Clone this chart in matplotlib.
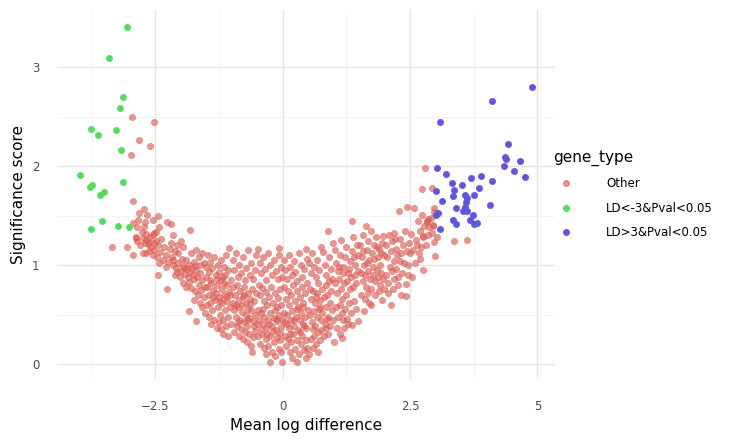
import numpy as np
import matplotlib
matplotlib.use("Agg")
import matplotlib.pyplot as plt
from matplotlib.lines import Line2D

# gene_type groups, colours from the plotnine hue palette
types = ["Other", "LD<-3&Pval<0.05", "LD>3&Pval<0.05"]
colors = ["#db5f57", "#57db5f", "#5f57db"]

# (mean log difference, significance score)
green_pts = [(-3.06, 3.41), (-3.41, 3.10), (-3.14, 2.70), (-3.20, 2.59), (-3.77, 2.38),
             (-3.63, 2.32), (-3.27, 2.37), (-3.18, 2.17), (-3.98, 1.91), (-3.75, 1.81),
             (-3.78, 1.79), (-3.14, 1.84), (-3.58, 1.71), (-3.51, 1.74), (-3.55, 1.45),
             (-3.77, 1.37), (-3.23, 1.40), (-3.02, 1.39)]

blue_pts = [(4.90, 2.80), (4.11, 2.66), (3.09, 2.45), (4.42, 2.23), (4.37, 2.09), (4.38, 2.07),
            (4.65, 2.05), (4.34, 2.00), (4.53, 1.95), (4.76, 1.89), (3.03, 1.98), (3.20, 1.92),
            (3.90, 1.90), (3.70, 1.88), (4.11, 1.85), (3.33, 1.83), (3.51, 1.81), (3.86, 1.78),
            (3.37, 1.76), (3.00, 1.75), (3.57, 1.71), (3.76, 1.71), (3.34, 1.70), (3.62, 1.68),
            (3.12, 1.65), (3.60, 1.64), (4.06, 1.61), (3.40, 1.58), (3.58, 1.59), (3.57, 1.56),
            (3.62, 1.55), (3.54, 1.55), (3.73, 1.51), (3.05, 1.53), (3.00, 1.51), (3.34, 1.46),
            (3.41, 1.42), (3.67, 1.46), (3.75, 1.42), (3.82, 1.43), (3.08, 1.37)]

other_pts = [
    # upper left arm
    (-2.95, 2.50), (-2.53, 2.45), (-2.83, 2.27), (-2.60, 2.21), (-2.98, 2.11),
    (-2.93, 1.65), (-2.72, 1.57), (-2.82, 1.53), (-2.67, 1.51), (-2.45, 1.50), (-2.85, 1.46),
    (-2.70, 1.44), (-2.55, 1.46), (-2.28, 1.44), (-2.19, 1.42), (-2.93, 1.43), (-2.87, 1.39),
    (-2.72, 1.39), (-2.43, 1.39), (-2.77, 1.34), (-2.68, 1.32), (-2.52, 1.33), (-2.49, 1.34),
    (-2.55, 1.31), (-2.60, 1.28), (-2.39, 1.26), (-2.88, 1.27), (-2.15, 1.30), (-2.86, 1.24),
    (-2.68, 1.25), (-2.63, 1.23), (-3.35, 1.18), (-3.05, 1.18), (-2.53, 1.22), (-2.44, 1.20),
    (-1.83, 1.36),
    # left arm
    (-2.93, 1.10), (-2.75, 1.12), (-2.68, 1.12), (-2.89, 1.28), (-2.80, 1.20), (-2.75, 1.27),
    (-2.70, 1.22), (-2.64, 1.21), (-2.58, 1.18), (-2.52, 1.15), (-2.55, 1.10), (-2.40, 1.13),
    (-2.47, 1.08), (-2.36, 1.05), (-2.30, 1.10), (-2.25, 1.03), (-2.18, 1.08), (-2.12, 1.14),
    (-2.22, 1.16), (-2.05, 1.12), (-2.00, 1.24), (-2.08, 1.20), (-1.95, 1.18), (-1.90, 1.05),
    (-2.29, 0.98), (-2.44, 0.90), (-2.28, 0.76), (-2.16, 1.00), (-2.10, 0.97), (-2.05, 1.02),
    (-2.00, 0.94), (-1.96, 0.99), (-1.92, 0.91), (-1.88, 0.96), (-2.02, 0.88), (-2.12, 0.90),
    (-1.85, 1.00), (-1.82, 0.93), (-1.78, 0.97), (-1.75, 1.03), (-1.70, 0.95), (-1.95, 0.82),
    (-1.90, 0.78), (-1.84, 0.83), (-1.80, 0.77), (-1.74, 0.86), (-1.68, 0.88), (-1.65, 0.80),
    (-1.62, 0.92), (-1.58, 0.85), (-1.72, 0.74), (-1.66, 0.70), (-1.60, 0.75), (-1.55, 0.68),
    (-1.52, 0.78), (-1.50, 0.88), (-1.84, 0.54), (-1.70, 0.43), (-1.62, 0.62), (-1.58, 0.58),
    (-1.53, 0.52), (-1.48, 0.60), (-1.45, 0.70), (-1.45, 0.48), (-1.75, 0.65), (-1.80, 1.12),
    (-1.70, 1.15), (-1.65, 1.08), (-1.58, 1.12), (-1.55, 1.02), (-1.50, 0.98), (-1.62, 1.00),
    (-2.62, 1.14), (-2.48, 1.24), (-2.34, 1.18), (-2.20, 1.22), (-2.42, 1.02), (-2.15, 1.05),
    (-1.98, 1.06), (-1.86, 0.88), (-1.77, 0.90), (-1.93, 0.97), (-2.07, 0.93), (-1.72, 0.99),
    # -1.5 .. -1.0
    (-1.46, 1.10), (-1.42, 1.03), (-1.38, 0.97), (-1.35, 1.08), (-1.32, 0.90), (-1.28, 1.00),
    (-1.25, 0.93), (-1.22, 1.05), (-1.18, 0.88), (-1.15, 0.98), (-1.12, 1.10), (-1.08, 0.95),
    (-1.05, 1.17), (-1.02, 0.85), (-1.40, 0.82), (-1.36, 0.75), (-1.30, 0.80), (-1.26, 0.68),
    (-1.20, 0.76), (-1.16, 0.70), (-1.10, 0.80), (-1.06, 0.73), (-1.42, 0.62), (-1.38, 0.55),
    (-1.33, 0.65), (-1.28, 0.58), (-1.24, 0.50), (-1.19, 0.62), (-1.14, 0.55), (-1.09, 0.64),
    (-1.04, 0.58), (-1.40, 0.40), (-1.35, 0.45), (-1.30, 0.36), (-1.26, 0.42), (-1.21, 0.35),
    (-1.17, 0.45), (-1.12, 0.38), (-1.07, 0.48), (-1.02, 0.40), (-1.45, 0.93), (-1.32, 0.72),
    (-1.22, 0.85), (-1.13, 0.90), (-1.03, 0.70), (-1.48, 0.78), (-1.18, 0.30), (-1.08, 0.28),
    (-1.37, 0.68), (-1.24, 0.64), (-1.11, 0.68), (-1.43, 0.85), (-1.29, 0.86), (-1.15, 0.82),
    # -1.0 .. -0.5
    (-0.98, 1.05), (-0.95, 0.95), (-0.92, 1.12), (-0.88, 0.88), (-0.85, 1.00), (-0.82, 0.92),
    (-0.78, 1.08), (-0.75, 0.85), (-0.72, 0.97), (-0.68, 1.15), (-0.65, 0.90), (-0.62, 1.02),
    (-0.58, 0.86), (-0.55, 0.95), (-0.52, 1.10), (-0.97, 0.78), (-0.93, 0.70), (-0.90, 0.80),
    (-0.86, 0.65), (-0.83, 0.74), (-0.79, 0.68), (-0.76, 0.78), (-0.72, 0.62), (-0.69, 0.72),
    (-0.65, 0.66), (-0.61, 0.76), (-0.57, 0.64), (-0.53, 0.72), (-0.96, 0.55), (-0.92, 0.48),
    (-0.88, 0.58), (-0.84, 0.45), (-0.80, 0.53), (-0.76, 0.42), (-0.73, 0.50), (-0.70, 0.38),
    (-0.66, 0.47), (-0.63, 0.55), (-0.59, 0.43), (-0.55, 0.50), (-0.51, 0.40), (-0.95, 0.32),
    (-0.90, 0.38), (-0.86, 0.28), (-0.82, 0.35), (-0.78, 0.25), (-0.74, 0.32), (-0.70, 0.22),
    (-0.66, 0.30), (-0.62, 0.18), (-0.58, 0.27), (-0.54, 0.33), (-0.60, 0.12), (-0.80, 0.60),
    (-0.68, 0.56), (-0.98, 0.62), (-0.87, 0.42), (-0.71, 0.45), (-0.56, 0.38), (-0.91, 0.60),
    (-0.64, 0.61), (-0.77, 0.70),
    # -0.5 .. 0
    (-0.48, 1.16), (-0.45, 1.02), (-0.42, 0.92), (-0.38, 1.08), (-0.35, 0.96), (-0.32, 0.85),
    (-0.28, 1.12), (-0.26, 1.00), (-0.22, 0.90), (-0.18, 1.05), (-0.14, 0.94), (-0.10, 0.86),
    (-0.07, 1.17), (-0.08, 1.10), (-0.04, 0.98), (-0.02, 0.88), (-0.47, 0.80), (-0.44, 0.70),
    (-0.40, 0.77), (-0.37, 0.64), (-0.33, 0.73), (-0.30, 0.60), (-0.27, 0.68), (-0.23, 0.78),
    (-0.20, 0.62), (-0.16, 0.72), (-0.12, 0.58), (-0.09, 0.67), (-0.05, 0.76), (-0.03, 0.60),
    (-0.49, 0.55), (-0.46, 0.45), (-0.43, 0.52), (-0.39, 0.40), (-0.36, 0.48), (-0.32, 0.36),
    (-0.29, 0.44), (-0.25, 0.52), (-0.21, 0.38), (-0.18, 0.47), (-0.14, 0.34), (-0.11, 0.43),
    (-0.07, 0.50), (-0.04, 0.37), (-0.01, 0.45), (-0.48, 0.28), (-0.44, 0.20), (-0.40, 0.30),
    (-0.36, 0.16), (-0.33, 0.25), (-0.33, 0.10), (-0.29, 0.18), (-0.25, 0.02), (-0.25, 0.28),
    (-0.22, 0.12), (-0.18, 0.22), (-0.15, 0.08), (-0.12, 0.27), (-0.08, 0.15), (-0.05, 0.24),
    (-0.01, 0.02), (-0.03, 0.12), (-0.42, 0.35), (-0.16, 0.55), (-0.38, 0.56), (-0.27, 0.40),
    (-0.13, 0.46), (-0.06, 0.31), (-0.31, 0.30), (-0.20, 0.33),
    # 0 .. 0.5
    (0.02, 1.05), (0.05, 0.95), (0.08, 0.86), (0.12, 1.10), (0.15, 0.98), (0.18, 0.90),
    (0.22, 1.04), (0.25, 0.93), (0.28, 0.84), (0.32, 1.12), (0.35, 1.00), (0.38, 0.88),
    (0.42, 0.96), (0.45, 1.16), (0.48, 1.06), (0.03, 0.78), (0.06, 0.66), (0.10, 0.74),
    (0.13, 0.60), (0.17, 0.70), (0.20, 0.80), (0.24, 0.64), (0.27, 0.74), (0.30, 0.58),
    (0.34, 0.68), (0.37, 0.78), (0.40, 0.62), (0.44, 0.72), (0.47, 0.82), (0.02, 0.52),
    (0.05, 0.42), (0.09, 0.50), (0.12, 0.36), (0.16, 0.45), (0.19, 0.54), (0.22, 0.38),
    (0.26, 0.48), (0.29, 0.34), (0.33, 0.44), (0.36, 0.52), (0.39, 0.40), (0.43, 0.48),
    (0.46, 0.36), (0.49, 0.55), (0.04, 0.28), (0.07, 0.18), (0.10, 0.25), (0.14, 0.12),
    (0.17, 0.22), (0.21, 0.30), (0.24, 0.15), (0.28, 0.02), (0.28, 0.24), (0.31, 0.10),
    (0.35, 0.20), (0.38, 0.28), (0.41, 0.14), (0.45, 0.06), (0.45, 0.24), (0.48, 0.16),
    (0.18, 0.06), (0.40, 0.58), (0.08, 0.40), (0.23, 0.44), (0.33, 0.32), (0.14, 0.30),
    (0.42, 0.38), (0.27, 0.56),
    # 0.5 .. 1.0
    (0.52, 1.02), (0.55, 0.92), (0.58, 1.12), (0.62, 0.98), (0.65, 0.88), (0.68, 1.05),
    (0.72, 0.95), (0.75, 1.18), (0.79, 1.13), (0.82, 1.00), (0.85, 0.90), (0.88, 1.35),
    (0.90, 1.08), (0.95, 0.96), (0.98, 1.22), (0.53, 0.76), (0.56, 0.66), (0.60, 0.74),
    (0.63, 0.62), (0.67, 0.72), (0.70, 0.82), (0.73, 0.65), (0.77, 0.76), (0.80, 0.68),
    (0.84, 0.80), (0.87, 0.70), (0.91, 0.84), (0.94, 0.74), (0.97, 0.86), (0.54, 0.50),
    (0.57, 0.42), (0.61, 0.54), (0.64, 0.38), (0.68, 0.48), (0.71, 0.56), (0.75, 0.44),
    (0.78, 0.52), (0.82, 0.40), (0.85, 0.58), (0.89, 0.48), (0.92, 0.62), (0.96, 0.55),
    (0.99, 0.45), (0.55, 0.25), (0.59, 0.16), (0.62, 0.28), (0.66, 0.20), (0.69, 0.32),
    (0.73, 0.24), (0.76, 0.34), (0.80, 0.28), (0.84, 0.36), (0.88, 0.30), (0.93, 0.38),
    (0.52, 0.10), (0.70, 0.12), (0.60, 0.35), (0.74, 0.58), (0.86, 0.46), (0.66, 0.68),
    # 1.0 .. 1.5
    (1.02, 1.15), (1.05, 1.02), (1.08, 0.94), (1.12, 1.10), (1.15, 1.25), (1.18, 0.98),
    (1.22, 1.08), (1.25, 1.18), (1.28, 0.92), (1.32, 1.04), (1.35, 1.14), (1.36, 1.45),
    (1.38, 1.28), (1.42, 1.00), (1.45, 1.20), (1.48, 1.10), (1.03, 0.82), (1.07, 0.72),
    (1.10, 0.86), (1.14, 0.76), (1.17, 0.66), (1.21, 0.82), (1.24, 0.70), (1.27, 0.84),
    (1.31, 0.76), (1.34, 0.88), (1.38, 0.78), (1.41, 0.90), (1.44, 0.82), (1.47, 0.94),
    (1.04, 0.58), (1.08, 0.48), (1.12, 0.60), (1.16, 0.52), (1.16, 0.26), (1.19, 0.44),
    (1.23, 0.56), (1.26, 0.46), (1.30, 0.62), (1.33, 0.52), (1.35, 0.39), (1.39, 0.64),
    (1.43, 0.56), (1.48, 0.43), (1.06, 0.36), (1.12, 0.30), (1.20, 0.36), (1.28, 0.40),
    (1.00, 0.22), (1.19, 0.92), (1.30, 0.96), (1.40, 1.08), (1.11, 0.98),
    # 1.5 .. 2.0
    (1.52, 1.20), (1.55, 1.08), (1.58, 1.30), (1.60, 1.00), (1.63, 1.40), (1.65, 1.15),
    (1.68, 1.24), (1.70, 1.05), (1.73, 1.35), (1.76, 1.12), (1.78, 0.98), (1.80, 1.20),
    (1.83, 1.28), (1.86, 1.08), (1.88, 1.16), (1.91, 1.00), (1.94, 1.22), (1.97, 1.29),
    (1.99, 1.10), (1.53, 0.92), (1.57, 0.84), (1.61, 0.90), (1.64, 0.78), (1.67, 0.94),
    (1.71, 0.86), (1.74, 0.76), (1.77, 0.90), (1.81, 0.84), (1.84, 0.95), (1.87, 0.88),
    (1.90, 0.80), (1.93, 0.92), (1.96, 0.86), (1.54, 0.70), (1.59, 0.54), (1.62, 0.66),
    (1.68, 0.72), (1.74, 0.60), (1.82, 0.70), (1.89, 0.74), (1.94, 0.65), (1.98, 0.76),
    (1.69, 0.62), (1.66, 1.02), (1.79, 1.06), (1.92, 1.12), (1.57, 1.14), (1.85, 1.18),
    # 2.0 .. 2.5
    (2.02, 1.20), (2.05, 1.08), (2.08, 1.30), (2.10, 0.98), (2.12, 1.14), (2.15, 1.24),
    (2.18, 1.04), (2.19, 1.33), (2.22, 1.16), (2.25, 1.10), (2.28, 1.55), (2.30, 1.26),
    (2.33, 1.12), (2.36, 1.20), (2.40, 1.35), (2.43, 1.59), (2.45, 1.00), (2.48, 1.22),
    (2.03, 0.90), (2.07, 0.82), (2.12, 0.60), (2.14, 0.94), (2.19, 0.86), (2.23, 0.96),
    (2.27, 0.88), (2.32, 0.70), (2.35, 0.92), (2.41, 0.69), (2.41, 0.81), (2.46, 0.90),
    (2.06, 0.72), (2.16, 0.76), (2.26, 0.80), (2.38, 1.02), (2.49, 1.12), (2.20, 1.26),
    (2.31, 1.04), (2.44, 1.14),
    # 2.5 .. 3.0 and beyond
    (2.54, 0.88), (2.58, 1.58), (2.60, 1.02), (2.62, 1.25), (2.65, 1.45), (2.68, 1.12),
    (2.70, 1.06), (2.70, 1.35), (2.72, 1.18), (2.74, 1.51), (2.73, 1.77), (2.75, 0.95),
    (2.75, 1.28), (2.78, 1.40), (2.80, 1.98), (2.82, 1.20), (2.83, 1.45), (2.86, 1.47),
    (2.86, 1.30), (2.87, 1.39), (2.91, 1.48), (2.93, 1.33), (2.93, 1.78), (2.94, 1.40),
    (2.96, 1.58), (2.96, 1.23), (2.99, 1.09), (2.56, 1.15), (2.64, 1.20), (2.52, 1.32),
    (2.97, 1.54), (2.84, 1.44), (2.95, 1.41), (2.76, 1.29),
    (3.37, 1.24), (3.62, 1.25), (3.03, 1.28),
]

plt.rcParams['font.family'] = ['DejaVu Sans']

fig = plt.figure(figsize=(7.45, 4.43), dpi=100)
ax = fig.add_axes([0.077, 0.145, 0.668, 0.832])

groups = [other_pts, green_pts, blue_pts]
alphas = [0.65, 1.0, 1.0]
for pts, col, a in zip(groups, colors, alphas):
    arr = np.array(pts)
    ax.scatter(arr[:, 0], arr[:, 1], s=20, color=col, alpha=a,
               edgecolors=col, linewidths=0.5, zorder=3)

ax.set_facecolor('white')
for sp in ax.spines.values():
    sp.set_visible(False)

ax.set_xticks([-2.5, 0, 2.5, 5])
ax.set_xticklabels(['\u22122.5', '0', '2.5', '5'])
ax.set_yticks([0, 1, 2, 3])
ax.set_yticklabels(['0', '1', '2', '3'])
ax.set_xticks([-3.75, -1.25, 1.25, 3.75], minor=True)
ax.set_yticks([0.5, 1.5, 2.5], minor=True)
ax.grid(True, which='major', color='#e5e5e5', linewidth=1.0, zorder=0)
ax.grid(True, which='minor', color='#f3f3f3', linewidth=0.6, zorder=0)
ax.set_axisbelow(True)
ax.tick_params(which='both', length=0, labelsize=8.5, labelcolor='#4d4d4d')
ax.tick_params(axis='x', pad=15)
ax.tick_params(axis='y', pad=13)

ax.set_xlabel('Mean log difference', fontsize=11, labelpad=4)
ax.set_ylabel('Significance score', fontsize=11, labelpad=4)

handles = [Line2D([], [], linestyle='none', marker='o', markersize=4,
                  markerfacecolor=c, markeredgecolor=c, alpha=a)
           for c, a in zip(colors, alphas)]
leg = ax.legend(handles, types, title='gene_type', loc='center left',
                bbox_to_anchor=(0.996, 0.5), frameon=False, fontsize=8.5,
                title_fontsize=11, handlelength=2.2, handletextpad=2.3,
                labelspacing=0.95, borderaxespad=0, borderpad=0)
leg._legend_box.align = 'left'

fig.savefig('out.png', dpi=100)
